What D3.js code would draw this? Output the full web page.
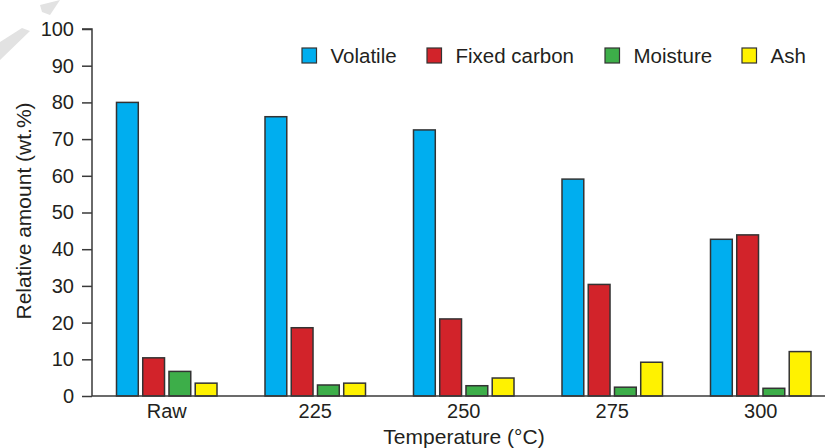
<!DOCTYPE html>
<meta charset="utf-8">
<style>
body { margin: 0; background: #fff; }
text { font-family: Arial, "Liberation Sans", sans-serif; fill: #231f20; }
.axis path, .axis line { stroke: #3a3a3a; stroke-width: 1.5px; }
.axis text { font-size: 20px; font-family: Arial, "Liberation Sans", sans-serif; }
</style>
<svg width="825" height="448"></svg>
<script src="https://d3js.org/d3.v7.min.js"></script>
<script>

var categories = ["Raw", "225", "250", "275", "300"];
var seriesNames = ["Volatile", "Fixed carbon", "Moisture", "Ash"];
var volatile = [80.0, 76.1, 72.5, 59.1, 42.7];
var fixedCarbon = [10.4, 18.6, 21.0, 30.4, 43.9];
var moisture = [6.7, 3.0, 2.8, 2.4, 2.1];
var ash = [3.5, 3.5, 4.9, 9.2, 12.1];
var yTicks = [0, 10, 20, 30, 40, 50, 60, 70, 80, 90, 100];

var colors = ["#00aeef", "#d2232a", "#3dae49", "#fff200"];
var values = [volatile, fixedCarbon, moisture, ash];

var svg = d3.select("svg");

// faint watermark in the corner
svg.append("path")
    .attr("d", "M0,42 L22,28 L30,31 L0,60 Z M40,5 L60,0 L50,15 L42,12 Z")
    .attr("fill", "#e2e2e2");

var x0 = d3.scaleBand()
    .domain(categories)
    .range([92.5, 835]);

var x1 = d3.scaleBand()
    .domain(seriesNames)
    .range([0, 100.5])
    .paddingInner(0.17);

var y = d3.scaleLinear()
    .domain([0, 100])
    .range([396, 29]);

var table = categories.map(function(c, i) {
  return {cat: c, vals: seriesNames.map(function(s, j) { return {name: s, v: values[j][i], color: colors[j]}; })};
});

var group = svg.selectAll(".grp")
  .data(table)
  .enter().append("g")
    .attr("class", "grp")
    .attr("transform", function(d) { return "translate(" + (x0(d.cat) + x0.bandwidth() / 2 - 50.25) + ",0)"; });

group.selectAll("rect")
  .data(function(d) { return d.vals; })
  .enter().append("rect")
    .attr("x", function(d) { return x1(d.name); })
    .attr("width", x1.bandwidth())
    .attr("y", function(d) { return y(d.v); })
    .attr("height", function(d) { return y(0) - y(d.v); })
    .attr("fill", function(d) { return d.color; })
    .attr("stroke", "#333")
    .attr("stroke-width", 1.5);

// y axis
var yAxis = svg.append("g")
    .attr("class", "axis")
    .attr("transform", "translate(92,0)")
    .call(d3.axisLeft(y).tickValues(yTicks).tickSize(10).tickSizeOuter(10).tickPadding(8));
yAxis.select(".domain").attr("d", "M-10," + y(100) + "H0V" + y(0));

// x axis
var xAxis = svg.append("g")
    .attr("class", "axis")
    .attr("transform", "translate(0," + y(0) + ")")
    .call(d3.axisBottom(x0).tickSize(0).tickPadding(8));
xAxis.select(".domain").attr("d", "M92,0H825");

svg.append("text")
    .attr("x", 464)
    .attr("y", 444)
    .attr("text-anchor", "middle")
    .style("font-size", "21px")
    .text("Temperature (°C)");

svg.append("text")
    .attr("transform", "translate(31,211) rotate(-90)")
    .attr("text-anchor", "middle")
    .style("font-size", "21px")
    .text("Relative amount (wt.%)");

// legend
var legendX = [302, 427, 605, 742];
var legend = svg.selectAll(".legend")
  .data(seriesNames)
  .enter().append("g")
    .attr("class", "legend")
    .attr("transform", function(d, i) { return "translate(" + legendX[i] + ",48)"; });

legend.append("rect")
    .attr("width", 14.5)
    .attr("height", 15)
    .attr("fill", function(d, i) { return colors[i]; })
    .attr("stroke", "#333")
    .attr("stroke-width", 1.2);

legend.append("text")
    .attr("x", 28.5)
    .attr("y", 15)
    .style("font-size", "20.5px")
    .text(function(d) { return d; });

</script>
